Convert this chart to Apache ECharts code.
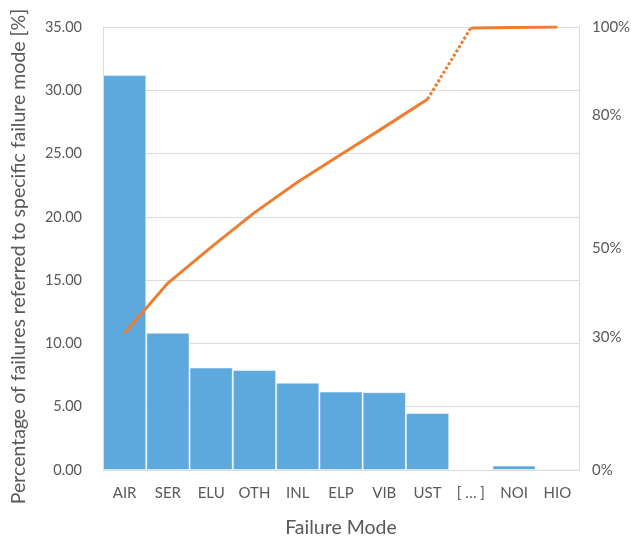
<!DOCTYPE html>
<html><head><meta charset="utf-8">
<script src="https://cdn.jsdelivr.net/npm/echarts@6/dist/echarts.min.js"></script>
<style>html,body{margin:0;padding:0;background:#fff}#c{width:633px;height:545px}</style>
</head><body><div id="c"></div>
<script>
const categories = ['AIR','SER','ELU','OTH','INL','ELP','VIB','UST','[ … ]','NOI','HIO'];
const failureShare = [31.2, 10.85, 8.1, 7.9, 6.9, 6.2, 6.15, 4.5, null, 0.35, 0.1];
const cumulativeShare = [30.9, 42.2, 50.3, 58.1, 65.0, 71.2, 77.4, 83.7, 99.8, 99.9, 100];
const cumulativeGapFrom = 7; // index where dotted segment starts (UST -> […])
const leftTicks = { min: 0, max: 35, interval: 5 };
const rightTickLabels = [0, 30, 50, 80, 100];

const solidA = cumulativeShare.map((v,i)=> i<=cumulativeGapFrom ? v : null);
const solidB = cumulativeShare.map((v,i)=> i>=cumulativeGapFrom+1 ? v : null);
const dotted = cumulativeShare.map((v,i)=> (i===cumulativeGapFrom || i===cumulativeGapFrom+1) ? v : null);

const txt = '#595959', grid = '#dcdcdc', font = 'Lato';
const orange = '#ED7D31';
const lineBase = {type:'line', yAxisIndex:1, symbol:'none', connectNulls:false, silent:true, z:5};

const chart = echarts.init(document.getElementById('c'));
chart.setOption({
  animation:false,
  textStyle:{fontFamily:font},
  grid:{left:103, right:54, top:27, bottom:75, containLabel:false, outerBoundsMode:'none'},
  xAxis:{type:'category', data:categories,
    axisLine:{show:true, lineStyle:{color:grid}}, axisTick:{show:false},
    axisLabel:{color:txt, fontSize:15, margin:16, fontFamily:font},
    name:'Failure Mode', nameLocation:'middle', nameGap:48,
    nameTextStyle:{color:txt, fontSize:19.5, fontFamily:font}},
  yAxis:[
    {type:'value', min:leftTicks.min, max:leftTicks.max, interval:leftTicks.interval,
     axisLine:{show:true, lineStyle:{color:grid}},
     splitLine:{lineStyle:{color:grid}},
     axisLabel:{color:txt, fontSize:14.5, margin:21, formatter:v=>v.toFixed(2), fontFamily:font},
     name:'Percentage of failures referred to specific failure mode [%]',
     nameLocation:'middle', nameGap:74,
     nameTextStyle:{color:txt, fontSize:19.5, fontFamily:font, padding:[0,16,0,0]}},
    {type:'value', min:0, max:100, interval:10, position:'right',
     axisLine:{show:true, lineStyle:{color:grid}}, splitLine:{show:false}, axisTick:{show:false},
     axisLabel:{color:txt, fontSize:15, margin:13, fontFamily:font,
       formatter:v=> rightTickLabels.includes(v) ? v+'%' : ''}}
  ],
  series:[
    {type:'bar', data:failureShare, barCategoryGap:'0%', silent:true,
     itemStyle:{color:'#5DA9DD', borderColor:'rgba(255,255,255,0.5)', borderWidth:1}},
    Object.assign({}, lineBase, {data:solidA, lineStyle:{color:orange, width:3}}),
    Object.assign({}, lineBase, {data:dotted, lineStyle:{color:orange, width:3, type:[3,2]}}),
    Object.assign({}, lineBase, {data:solidB, lineStyle:{color:orange, width:3}})
  ]
});
</script></body></html>
